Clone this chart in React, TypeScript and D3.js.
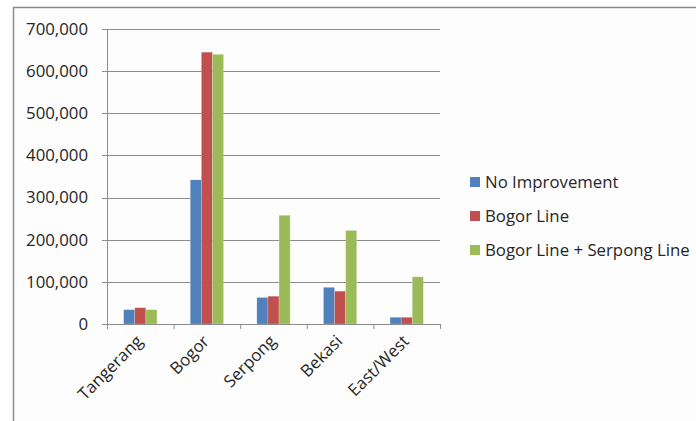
import React from "react";
import * as d3 from "d3";

const categories = ["Tangerang", "Bogor", "Serpong", "Bekasi", "East/West"];
const seriesNames = ["No Improvement", "Bogor Line", "Bogor Line + Serpong Line"];
const noImprovement = [34000, 342000, 63000, 87000, 16000];
const bogorLine = [38700, 645000, 66000, 78000, 16000];
const bogorSerpong = [34000, 640000, 258000, 222000, 112000];
const seriesColors = ["#4F81BD", "#C0504D", "#9BBB59"];
const yTicks = [0, 100000, 200000, 300000, 400000, 500000, 600000, 700000];

const W = 696;
const H = 421;
const plot = { left: 107, right: 440, top: 29, bottom: 324 };
const FONT = "'Open Sans', sans-serif";
const FS = 16.8;

export default function App() {
  const series = [noImprovement, bogorLine, bogorSerpong];
  const x = d3.scaleBand<string>().domain(categories).range([plot.left, plot.right]).paddingInner(0.5).paddingOuter(0.25);
  const inner = d3.scaleBand<number>().domain([0, 1, 2]).range([0, x.bandwidth()]);
  const y = d3.scaleLinear().domain([0, 700000]).range([plot.bottom, plot.top]);
  const fmt = d3.format(",");
  const step = (plot.right - plot.left) / categories.length;

  return (
    <div style={{ position: "fixed", left: 0, top: 0 }}>
      <svg width={W} height={H} style={{ display: "block", background: "#fff" }}>
        <rect x={13.5} y={7.5} width={720} height={450} fill="#fdfdfd" stroke="#8a8a8a" strokeWidth={1.5} />
        {yTicks.map((t) => (
          <g key={t}>
            {t > 0 && (
              <line x1={plot.left} x2={plot.right} y1={Math.round(y(t)) + 0.5} y2={Math.round(y(t)) + 0.5} stroke="#8c8c8c" strokeWidth={1} />
            )}
            <line x1={plot.left - 5} x2={plot.left} y1={Math.round(y(t)) + 0.5} y2={Math.round(y(t)) + 0.5} stroke="#8c8c8c" />
            <text x={88} y={y(t)} dy="0.35em" textAnchor="end" fontFamily={FONT} fontSize={FS} fill="#262626">
              {fmt(t)}
            </text>
          </g>
        ))}
        {series.map((vals, si) =>
          vals.map((v, ci) => (
            <rect
              key={`${si}-${ci}`}
              x={(x(categories[ci]) as number) + (inner(si) as number)}
              y={y(v)}
              width={inner.bandwidth()}
              height={y(0) - y(v)}
              fill={seriesColors[si]}
              stroke="#ffffff"
              strokeOpacity={0.35}
              strokeWidth={0.6}
            />
          ))
        )}
        <line x1={plot.left + 0.5} x2={plot.left + 0.5} y1={plot.top} y2={plot.bottom} stroke="#8c8c8c" />
        <line x1={plot.left} x2={plot.right} y1={plot.bottom + 0.5} y2={plot.bottom + 0.5} stroke="#8c8c8c" />
        {d3.range(categories.length + 1).map((i) => (
          <line key={i} x1={plot.left + i * step + 0.5} x2={plot.left + i * step + 0.5} y1={plot.bottom} y2={plot.bottom + 5} stroke="#8c8c8c" />
        ))}
        {categories.map((c) => {
          const cx = (x(c) as number) + x.bandwidth() / 2 - 5;
          return (
            <text
              key={c}
              transform={`translate(${cx},${plot.bottom + 10}) rotate(-45)`}
              textAnchor="end"
              dy="0.7em"
              fontFamily={FONT}
              fontSize={FS}
              fill="#262626"
            >
              {c}
            </text>
          );
        })}
        {seriesNames.map((n, i) => (
          <g key={n} transform={`translate(470,${182 + i * 34})`}>
            <rect x={0} y={-5} width={10} height={10} fill={seriesColors[i]} />
            <text x={15} y={0} dy="0.35em" fontFamily={FONT} fontSize={FS} fill="#262626">
              {n}
            </text>
          </g>
        ))}
      </svg>
    </div>
  );
}
